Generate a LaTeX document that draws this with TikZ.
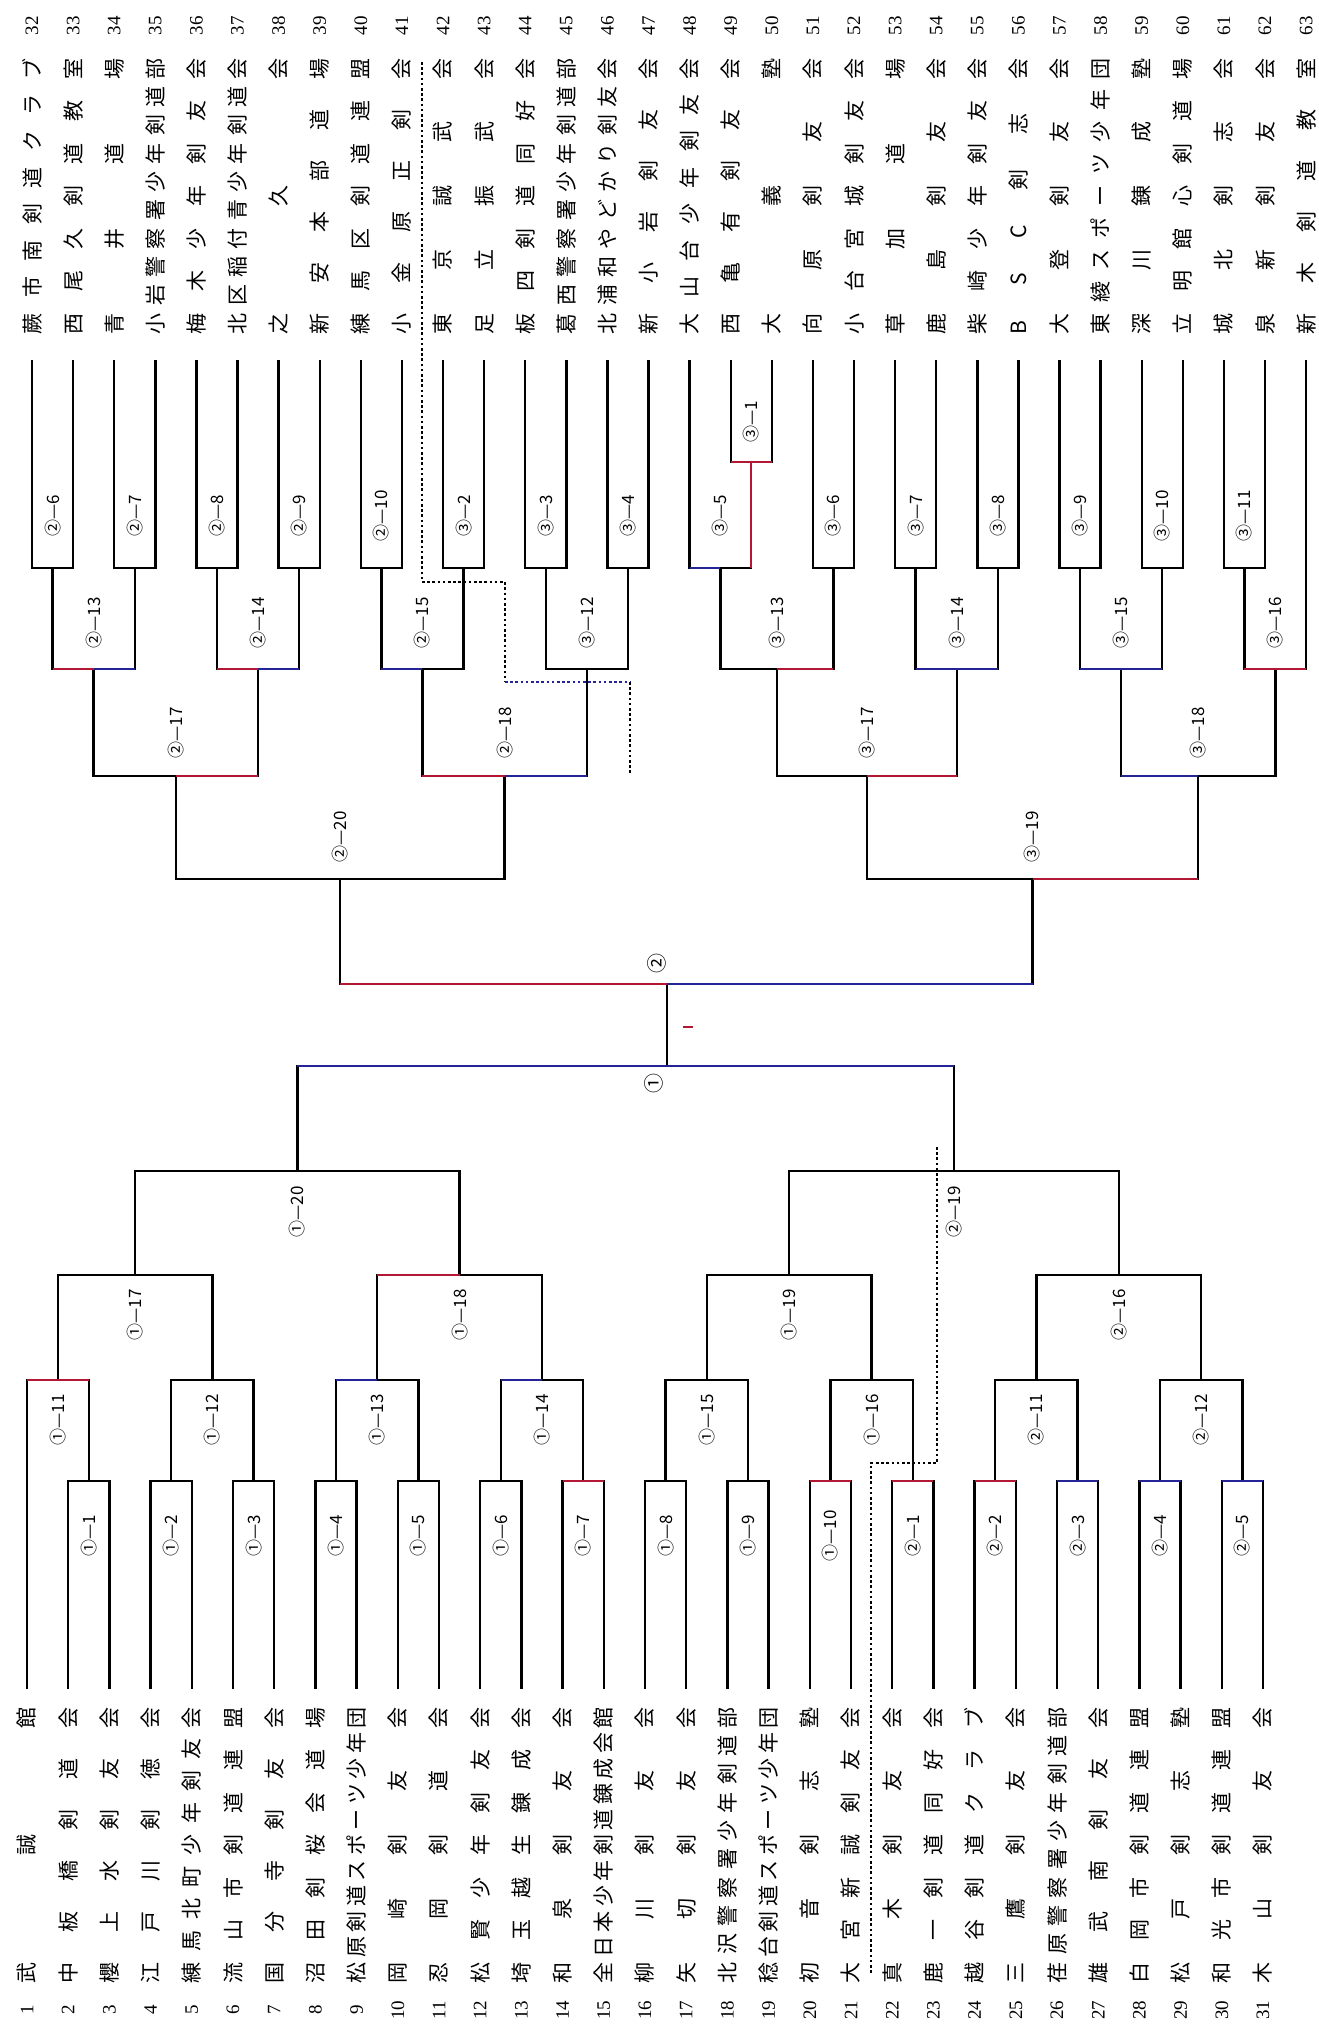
\documentclass[tikz,border=0pt]{standalone}
\usepackage{fontspec}
\setmainfont{Liberation Serif}
\newfontfamily\jp{Noto Sans CJK JP}
\usetikzlibrary{calc}
\definecolor{akared}{RGB}{178,24,52}
\definecolor{aoblue}{RGB}{36,36,150}
\tikzset{
  tname/.style={rotate=90, inner sep=0pt, font=\jp\fontsize{21}{21}\selectfont},
  tnum/.style={rotate=90, inner sep=0pt, font=\fontsize{19}{19}\selectfont},
  mlab/.style={rotate=90, inner sep=0pt, font=\jp\fontsize{17}{17}\selectfont},
  dotsep/.style={dash pattern=on 2.6pt off 2.6pt},
}
\begin{document}
\begin{tikzpicture}[x=1pt, y=-1pt, line width=2.4pt]
	\useasboundingbox (0,0) rectangle (1318,2034);

	% teams 32-63 (top)
	\foreach \m/\s in {32/蕨 市 南 剣 道 ク ラ ブ, 33/西 尾 久 剣 道 教 室, 34/青 井 道 場,
	  35/小 岩 警 察 署 少 年 剣 道 部, 36/梅 木 少 年 剣 友 会, 37/北 区 稲 付 青 少 年 剣 道 会,
	  38/之 久 会, 39/新 安 本 部 道 場, 40/練 馬 区 剣 道 連 盟, 41/小 金 原 正 剣 会,
	  42/東 京 誠 武 会, 43/足 立 振 武 会, 44/板 四 剣 道 同 好 会, 45/葛 西 警 察 署 少 年 剣 道 部,
	  46/北 浦 和 や ど か り 剣 友 会, 47/新 小 岩 剣 友 会, 48/大 山 台 少 年 剣 友 会,
	  49/西 亀 有 剣 友 会, 50/大 義 塾, 51/向 原 剣 友 会, 52/小 台 宮 城 剣 友 会, 53/草 加 道 場,
	  54/鹿 島 剣 友 会, 55/柴 崎 少 年 剣 友 会, 56/B S C 剣 志 会, 57/大 登 剣 友 会,
	  58/東 綾 ス ポ ー ツ 少 年 団, 59/深 川 錬 成 塾, 60/立 明 館 心 剣 道 場, 61/城 北 剣 志 会,
	  62/泉 新 剣 友 会, 63/新 木 剣 道 教 室}{
	  \coordinate (t_\m) at ({32+41.1*(\m-32)},360);
	  \node[tname] (n_\m) at ({32+41.1*(\m-32)},196) {\makebox[276pt][s]{\s}};
	  \node[tnum] (k_\m) at ({32+41.1*(\m-32)},26) {\m};
	}

	% teams 1-31 (bottom)
	\foreach \n/\s in {1/武 誠 館, 2/中 板 橋 剣 道 会, 3/櫻 上 水 剣 友 会, 4/江 戸 川 剣 徳 会,
	  5/練 馬 北 町 少 年 剣 友 会, 6/流 山 市 剣 道 連 盟, 7/国 分 寺 剣 友 会, 8/沼 田 剣 桜 会 道 場,
	  9/松 原 剣 道 ス ポ ー ツ 少 年 団, 10/岡 崎 剣 友 会, 11/忍 岡 剣 道 会, 12/松 賢 少 年 剣 友 会,
	  13/埼 玉 越 生 錬 成 会, 14/和 泉 剣 友 会, 15/全 日 本 少 年 剣 道 錬 成 会 館, 16/柳 川 剣 友 会,
	  17/矢 切 剣 友 会, 18/北 沢 警 察 署 少 年 剣 道 部, 19/稔 台 剣 道 ス ポ ー ツ 少 年 団,
	  20/初 音 剣 志 塾, 21/大 宮 新 誠 剣 友 会, 22/真 木 剣 友 会, 23/鹿 一 剣 道 同 好 会,
	  24/越 谷 剣 道 ク ラ ブ, 25/三 鷹 剣 友 会, 26/荏 原 警 察 署 少 年 剣 道 部, 27/雄 武 南 剣 友 会,
	  28/白 岡 市 剣 道 連 盟, 29/松 戸 剣 志 塾, 30/和 光 市 剣 道 連 盟, 31/木 山 剣 友 会}{
	  \coordinate (b_\n) at ({27+41.2*(\n-1)},1689);
	  \node[tname] (n_\n) at ({27+41.2*(\n-1)},1845) {\makebox[276pt][s]{\s}};
	  \node[tnum] (k_\n) at ({27+41.2*(\n-1)},2010) {\n};
	}

	% junctions, top half
	\coordinate (j2_6) at (52.55,568);   \coordinate (j2_7) at (134.75,568);
	\coordinate (j2_8) at (216.95,568);  \coordinate (j2_9) at (299.15,568);
	\coordinate (j2_10) at (381.35,568); \coordinate (j3_2) at (463.55,568);
	\coordinate (j3_3) at (545.75,568);  \coordinate (j3_4) at (627.95,568);
	\coordinate (j2_13) at (93.65,669);  \coordinate (j2_14) at (258.05,669);
	\coordinate (j2_15) at (422.45,669); \coordinate (j3_12) at (586.85,669);
	\coordinate (j2_17) at (175.85,776); \coordinate (j2_18) at (504.65,776);
	\coordinate (j2_20) at (340.25,879);
	\coordinate (j3_1) at (751.25,462);
	\coordinate (j3_5) at (720.4,568);   \coordinate (j3_6) at (833.45,568);
	\coordinate (j3_7) at (915.65,568);  \coordinate (j3_8) at (997.85,568);
	\coordinate (j3_9) at (1080.05,568); \coordinate (j3_10) at (1162.25,568);
	\coordinate (j3_11) at (1244.45,568);
	\coordinate (j3_13) at (776.9,669);  \coordinate (j3_14) at (956.75,669);
	\coordinate (j3_15) at (1121.15,669); \coordinate (j3_16) at (1275.3,669);
	\coordinate (j3_17) at (866.8,776);  \coordinate (j3_18) at (1198.2,776);
	\coordinate (j3_19) at (1032.5,879);
	\coordinate (f_2) at (667,984);

	% junctions, bottom half
	\coordinate (j1_1) at (88.8,1481);   \coordinate (j1_2) at (171.2,1481);
	\coordinate (j1_3) at (253.6,1481);  \coordinate (j1_4) at (336,1481);
	\coordinate (j1_5) at (418.4,1481);  \coordinate (j1_6) at (500.8,1481);
	\coordinate (j1_7) at (583.2,1481);  \coordinate (j1_8) at (665.6,1481);
	\coordinate (j1_9) at (748,1481);    \coordinate (j1_10) at (830.4,1481);
	\coordinate (j2_1) at (912.8,1481);  \coordinate (j2_2) at (995.2,1481);
	\coordinate (j2_3) at (1077.6,1481); \coordinate (j2_4) at (1160,1481);
	\coordinate (j2_5) at (1242.4,1481);
	\coordinate (j1_11) at (57.9,1380);  \coordinate (j1_12) at (212.4,1380);
	\coordinate (j1_13) at (377.2,1380); \coordinate (j1_14) at (542,1380);
	\coordinate (j1_15) at (706.8,1380); \coordinate (j1_16) at (871.6,1380);
	\coordinate (j2_11) at (1036.4,1380); \coordinate (j2_12) at (1201.2,1380);
	\coordinate (j1_17) at (135.15,1275); \coordinate (j1_18) at (459.6,1275);
	\coordinate (j1_19) at (789.2,1275); \coordinate (j2_16) at (1118.8,1275);
	\coordinate (j1_20) at (297.4,1171); \coordinate (j2_19) at (954,1171);
	\coordinate (f_1) at (667,1066);

	% top bracket
	\draw (t_32) |- (j2_6) -| (t_33);
	\draw (t_34) |- (j2_7) -| (t_35);
	\draw (t_36) |- (j2_8) -| (t_37);
	\draw (t_38) |- (j2_9) -| (t_39);
	\draw (t_40) |- (j2_10) -| (t_41);
	\draw (t_42) |- (j3_2) -| (t_43);
	\draw (t_44) |- (j3_3) -| (t_45);
	\draw (t_46) |- (j3_4) -| (t_47);
	\draw (j2_6) |- (j2_13) -| (j2_7);
	\draw (j2_8) |- (j2_14) -| (j2_9);
	\draw (j2_10) |- (j2_15) -| (j3_2);
	\draw (j3_3) |- (j3_12) -| (j3_4);
	\draw (j2_13) |- (j2_17) -| (j2_14);
	\draw (j2_15) |- (j2_18) -| (j3_12);
	\draw (j2_17) |- (j2_20) -| (j2_18);
	\draw (t_49) |- (j3_1) -| (t_50);
	\draw (t_48) |- (j3_5) -| (j3_1);
	\draw (t_51) |- (j3_6) -| (t_52);
	\draw (t_53) |- (j3_7) -| (t_54);
	\draw (t_55) |- (j3_8) -| (t_56);
	\draw (t_57) |- (j3_9) -| (t_58);
	\draw (t_59) |- (j3_10) -| (t_60);
	\draw (t_61) |- (j3_11) -| (t_62);
	\draw (j3_5) |- (j3_13) -| (j3_6);
	\draw (j3_7) |- (j3_14) -| (j3_8);
	\draw (j3_9) |- (j3_15) -| (j3_10);
	\draw (j3_11) |- (j3_16) -| (t_63);
	\draw (j3_13) |- (j3_17) -| (j3_14);
	\draw (j3_15) |- (j3_18) -| (j3_16);
	\draw (j3_17) |- (j3_19) -| (j3_18);
	\draw (j2_20) |- (f_2) -| (j3_19);

	% bottom bracket
	\draw (b_2) |- (j1_1) -| (b_3);
	\draw (b_4) |- (j1_2) -| (b_5);
	\draw (b_6) |- (j1_3) -| (b_7);
	\draw (b_8) |- (j1_4) -| (b_9);
	\draw (b_10) |- (j1_5) -| (b_11);
	\draw (b_12) |- (j1_6) -| (b_13);
	\draw (b_14) |- (j1_7) -| (b_15);
	\draw (b_16) |- (j1_8) -| (b_17);
	\draw (b_18) |- (j1_9) -| (b_19);
	\draw (b_20) |- (j1_10) -| (b_21);
	\draw (b_22) |- (j2_1) -| (b_23);
	\draw (b_24) |- (j2_2) -| (b_25);
	\draw (b_26) |- (j2_3) -| (b_27);
	\draw (b_28) |- (j2_4) -| (b_29);
	\draw (b_30) |- (j2_5) -| (b_31);
	\draw (b_1) |- (j1_11) -| (j1_1);
	\draw (j1_2) |- (j1_12) -| (j1_3);
	\draw (j1_4) |- (j1_13) -| (j1_5);
	\draw (j1_6) |- (j1_14) -| (j1_7);
	\draw (j1_8) |- (j1_15) -| (j1_9);
	\draw (j1_10) |- (j1_16) -| (j2_1);
	\draw (j2_2) |- (j2_11) -| (j2_3);
	\draw (j2_4) |- (j2_12) -| (j2_5);
	\draw (j1_11) |- (j1_17) -| (j1_12);
	\draw (j1_13) |- (j1_18) -| (j1_14);
	\draw (j1_15) |- (j1_19) -| (j1_16);
	\draw (j2_11) |- (j2_16) -| (j2_12);
	\draw (j1_17) |- (j1_20) -| (j1_18);
	\draw (j1_19) |- (j2_19) -| (j2_16);
	\draw (j1_20) |- (f_1) -| (j2_19);

	% final
	\draw (f_2) -- (f_1);

	% red / blue halves
	\draw[akared] (j2_13) -- (j2_13 -| j2_6);  \draw[aoblue] (j2_13) -- (j2_13 -| j2_7);
	\draw[akared] (j2_14) -- (j2_14 -| j2_8);  \draw[aoblue] (j2_14) -- (j2_14 -| j2_9);
	\draw[akared] (j2_17) -- (j2_17 -| j2_14);
	\draw[aoblue] (j2_15) -- (j2_15 -| j2_10);
	\draw[akared] (j2_18) -- (j2_18 -| j2_15); \draw[aoblue] (j2_18) -- (j2_18 -| j3_12);
	\draw[akared] (j3_1 -| t_49) -- (j3_1 -| t_50);
	\draw[akared] (j3_1) -- (j3_1 |- j3_5);
	\draw[aoblue] (j3_5) -- (j3_5 -| t_48);
	\draw[akared] (j3_13) -- (j3_13 -| j3_6);
	\draw[aoblue] (j3_14 -| j3_7) -- (j3_14 -| j3_8);
	\draw[aoblue] (j3_15 -| j3_9) -- (j3_15 -| j3_10);
	\draw[akared] (j3_16 -| j3_11) -- (j3_16 -| t_63);
	\draw[akared] (j3_17) -- (j3_17 -| j3_14);
	\draw[aoblue] (j3_18) -- (j3_18 -| j3_15);
	\draw[akared] (j3_19) -- (j3_19 -| j3_18);
	\draw[akared] (f_2) -- (f_2 -| j2_20);     \draw[aoblue] (f_2) -- (f_2 -| j3_19);
	\draw[akared] (j1_11 -| b_1) -- (j1_11 -| j1_1);
	\draw[aoblue] (j1_13) -- (j1_13 -| j1_4);
	\draw[aoblue] (j1_14) -- (j1_14 -| j1_6);
	\draw[akared] (j1_18) -- (j1_18 -| j1_13);
	\draw[akared] (j1_7 -| b_14) -- (j1_7 -| b_15);
	\draw[akared] (j1_10 -| b_20) -- (j1_10 -| b_21);
	\draw[akared] (j2_1 -| b_22) -- (j2_1 -| b_23);
	\draw[akared] (j2_2 -| b_24) -- (j2_2 -| b_25);
	\draw[aoblue] (j2_3 -| b_26) -- (j2_3 -| b_27);
	\draw[aoblue] (j2_4 -| b_28) -- (j2_4 -| b_29);
	\draw[aoblue] (j2_5 -| b_30) -- (j2_5 -| b_31);
	\draw[aoblue] (f_1 -| j1_20) -- (f_1 -| j2_19);
	\draw[akared, line width=2pt] (683,1027) -- (693,1027);

	% match labels
	\foreach \j/\t/\d in {2_6/②—6/-52, 2_7/②—7/-52, 2_8/②—8/-52, 2_9/②—9/-52, 2_10/②—10/-52,
	  3_2/③—2/-52, 3_3/③—3/-52, 3_4/③—4/-52, 3_5/③—5/-52, 3_6/③—6/-52, 3_7/③—7/-52,
	  3_8/③—8/-52, 3_9/③—9/-52, 3_10/③—10/-52, 3_11/③—11/-52, 3_1/③—1/-40,
	  2_13/②—13/-46, 2_14/②—14/-46, 2_15/②—15/-46, 3_12/③—12/-46, 3_13/③—13/-46,
	  3_14/③—14/-46, 3_15/③—15/-46, 3_16/③—16/-46, 2_17/②—17/-43, 2_18/②—18/-43,
	  3_17/③—17/-43, 3_18/③—18/-43, 2_20/②—20/-42, 3_19/③—19/-42,
	  1_1/①—1/55, 1_2/①—2/55, 1_3/①—3/55, 1_4/①—4/55, 1_5/①—5/55, 1_6/①—6/55,
	  1_7/①—7/55, 1_8/①—8/55, 1_9/①—9/55, 1_10/①—10/55, 2_1/②—1/55, 2_2/②—2/55,
	  2_3/②—3/55, 2_4/②—4/55, 2_5/②—5/55, 1_11/①—11/40, 1_12/①—12/40, 1_13/①—13/40,
	  1_14/①—14/40, 1_15/①—15/40, 1_16/①—16/40, 2_11/②—11/40, 2_12/②—12/40,
	  1_17/①—17/40, 1_18/①—18/40, 1_19/①—19/40, 2_16/②—16/40, 1_20/①—20/41, 2_19/②—19/41}{
	  \node[mlab] (l\j) at ($(j\j)+(0,\d)$) {\t};
	}
	\node[mlab, font=\jp\fontsize{20}{20}\selectfont] (s_2) at ($(f_2)+(-10,-21)$) {②};
	\node[mlab, font=\jp\fontsize{20}{20}\selectfont] (s_1) at ($(f_1)+(-13,17)$) {①};

	% dotted dividers
	\coordinate (d_1) at (422,62);  \coordinate (d_2) at (422,582);
	\coordinate (d_3) at (505,582); \coordinate (d_4) at (505,682);
	\coordinate (d_5) at (630,682); \coordinate (d_6) at (630,774);
	\draw[dotsep] (d_1) -- (d_2) -- (d_3) -- (d_4);
	\draw[dotsep, aoblue] (d_4) -- (d_5);
	\draw[dotsep] (d_5) -- (d_6);
	\coordinate (e_1) at (937,1147); \coordinate (e_2) at (937,1463);
	\coordinate (e_3) at (871,1463); \coordinate (e_4) at (871,1975);
	\draw[dotsep] (e_1) -- (e_2) -- (e_3) -- (e_4);
\end{tikzpicture}
\end{document}
